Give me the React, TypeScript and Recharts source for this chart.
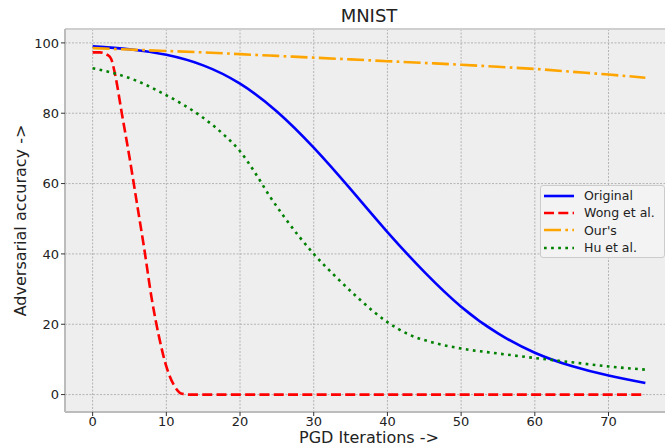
import {
  CartesianGrid,
  Label,
  Legend,
  Line,
  LineChart,
  ReferenceLine,
  XAxis,
  YAxis,
} from "recharts";

const originalIters = [0, 5, 10, 15, 20, 25, 30, 35, 40, 45, 50, 55, 60, 65, 70, 75];
const originalAcc = [99, 98.2, 96.6, 93.6, 88.4, 80.5, 70.2, 58.4, 46.2, 34.9, 25, 17.4, 11.9, 8.1, 5.4, 3.3];

const wongIters = [0, 1, 2, 2.5, 3, 4, 5, 6, 7, 8, 9, 10, 11, 11.5, 12, 13, 30, 50, 75];
const wongAcc = [97.3, 97.3, 96.6, 95.5, 91.5, 79.5, 67.5, 54.5, 41.5, 27.5, 16.5, 8, 2.8, 1.2, 0.3, 0, 0, 0, 0];

const oursIters = [0, 5, 10, 15, 20, 25, 30, 35, 40, 45, 50, 55, 60, 65, 70, 75];
const oursAcc = [98.5, 98.1, 97.7, 97.3, 96.8, 96.3, 95.8, 95.3, 94.8, 94.3, 93.8, 93.2, 92.6, 91.8, 91, 90.1];

const huIters = [0, 3, 6, 9, 12, 15, 18, 20, 22, 24, 26, 28, 30, 33, 36, 40, 43, 46, 50, 55, 60, 65, 70, 75];
const huAcc = [92.8, 91.3, 89.2, 86.2, 82.8, 78.7, 73.5, 69.2, 63.2, 56.5, 50.5, 45, 40, 33.5, 27.5, 20.6, 17, 14.9, 13.1, 11.7, 10.4, 9.2, 8, 7.1];

const xTicks = [0, 10, 20, 30, 40, 50, 60, 70];
const yTicks = [0, 20, 40, 60, 80, 100];

const toPoints = (xs: number[], ys: number[]) => xs.map((x, i) => ({ x, y: ys[i] }));

const series = [
  { name: "Original", color: "#0000ff", dash: undefined, curve: "natural", data: toPoints(originalIters, originalAcc) },
  { name: "Wong et al.", color: "#ff0000", dash: "10 4.3", curve: "monotone", data: toPoints(wongIters, wongAcc) },
  { name: "Our's", color: "#ffa500", dash: "17 4.3 2.7 4.3", curve: "natural", data: toPoints(oursIters, oursAcc) },
  { name: "Hu et al.", color: "#008000", dash: "2.7 4.4", curve: "monotone", data: toPoints(huIters, huAcc) },
] as const;

const font = "'DejaVu Sans', sans-serif";
const Y_MAX = 103.95;

function LegendBox() {
  return (
    <div
      style={{
        width: 120,
        height: 70,
        background: "#f3f3f3",
        border: "1px solid #cccccc",
        borderRadius: 3,
        padding: "1px 0 0 3px",
        boxSizing: "content-box",
        fontFamily: font,
        fontSize: 12.5,
        color: "#222",
      }}
    >
      {series.map((s) => (
        <div key={s.name} style={{ display: "flex", alignItems: "center", height: 17.3 }}>
          <svg width={30} height={6} style={{ marginRight: 10 }}>
            <line x1={0} y1={3} x2={30} y2={3} stroke={s.color} strokeWidth={2.6} strokeDasharray={s.dash} />
          </svg>
          <span>{s.name}</span>
        </div>
      ))}
    </div>
  );
}

export default function App() {
  return (
    <div style={{ position: "absolute", left: 0, top: 0, width: 665, height: 448, overflow: "hidden", background: "#fff" }}>
      <div
        style={{
          position: "absolute",
          left: 0,
          top: 7,
          width: 738,
          textAlign: "center",
          fontFamily: font,
          fontSize: 18,
          lineHeight: "18px",
          color: "#222",
        }}
      >
        MNIST
      </div>
      <LineChart width={680} height={448} margin={{ top: 29, right: 7, left: 0, bottom: 0 }}>
        <CartesianGrid stroke="#b4b4b4" strokeDasharray="2 1.5" fill="#eeeeee" fillOpacity={1} />
        <XAxis
          dataKey="x"
          type="number"
          domain={[-3.75, 78.75]}
          allowDataOverflow
          ticks={xTicks}
          height={36}
          tickSize={4}
          tickMargin={1}
          stroke="#bcbcbc"
          axisLine={{ stroke: "#bcbcbc", strokeWidth: 2 }}
          tickLine={{ stroke: "#333" }}
          tick={{ fill: "#222", fontSize: 13, fontFamily: font }}
        >
          <Label
            value="PGD Iterations ->"
            position="insideBottom"
            offset={5}
            style={{ fontFamily: font, fontSize: 16, fill: "#222" }}
          />
        </XAxis>
        <YAxis
          type="number"
          domain={[-4.95, Y_MAX]}
          allowDataOverflow
          ticks={yTicks}
          width={65}
          tickSize={4}
          tickMargin={2}
          axisLine={{ stroke: "#bcbcbc", strokeWidth: 2 }}
          tickLine={{ stroke: "#333" }}
          tick={{ fill: "#222", fontSize: 13, fontFamily: font }}
        >
          <Label
            value="Adversarial accuracy ->"
            angle={-90}
            position="insideLeft"
            offset={20}
            style={{ fontFamily: font, fontSize: 16, fill: "#222", textAnchor: "middle" }}
          />
        </YAxis>
        <ReferenceLine y={Y_MAX} stroke="#cfcfcf" strokeWidth={2} ifOverflow="visible" />
        {series.map((s) => (
          <Line
            key={s.name}
            data={s.data as any}
            dataKey="y"
            name={s.name}
            type={s.curve}
            stroke={s.color}
            strokeWidth={2.6}
            strokeDasharray={s.dash}
            dot={false}
            activeDot={false}
            isAnimationActive={false}
          />
        ))}
        <Legend
          layout="horizontal"
          align="center"
          verticalAlign="middle"
          content={() => <LegendBox />}
          wrapperStyle={{ left: 540, top: 185, width: 124 }}
        />
      </LineChart>
    </div>
  );
}
